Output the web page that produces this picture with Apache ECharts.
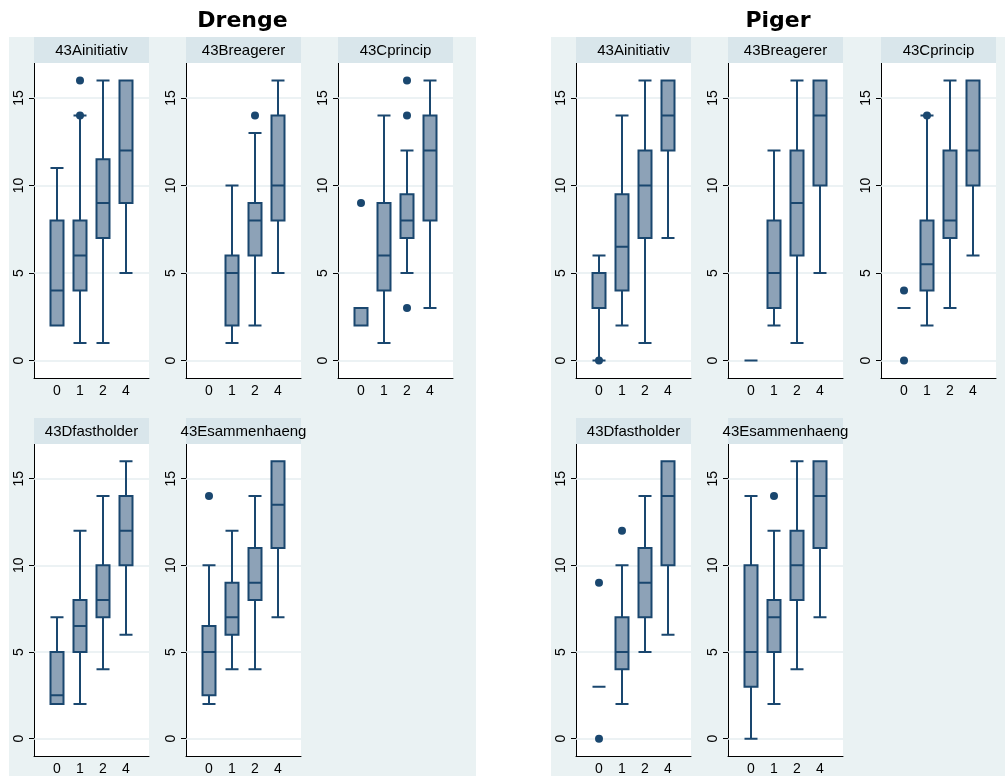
<!DOCTYPE html>
<html><head><meta charset="utf-8">
<script src="https://cdn.jsdelivr.net/npm/echarts@6/dist/echarts.min.js"></script>
<style>html,body{margin:0;padding:0;background:#fff}#c{width:1005px;height:776px}</style>
</head><body><div id="c"></div>
<script>
// ---------- data ----------
const categories = ['0', '1', '2', '4'];
const panelTitles = ['43Ainitiativ', '43Breagerer', '43Cprincip', '43Dfastholder', '43Esammenhaeng'];
const groupTitles = ['Drenge', 'Piger'];
const yTicks = [0, 5, 10, 15];

// box stats per category: [min, Q1, median, Q3, max]  (null = no observations)
const drengeA = [[2, 2, 4, 8, 11], [1, 4, 6, 8, 14], [1, 7, 9, 11.5, 16], [5, 9, 12, 16, 16]];
const drengeB = [null, [1, 2, 5, 6, 10], [2, 6, 8, 9, 13], [5, 8, 10, 14, 16]];
const drengeC = [[2, 2, 2, 3, 3], [1, 4, 6, 9, 14], [5, 7, 8, 9.5, 12], [3, 8, 12, 14, 16]];
const drengeD = [[2, 2, 2.5, 5, 7], [2, 5, 6.5, 8, 12], [4, 7, 8, 10, 14], [6, 10, 12, 14, 16]];
const drengeE = [[2, 2.5, 5, 6.5, 10], [4, 6, 7, 9, 12], [4, 8, 9, 11, 14], [7, 11, 13.5, 16, 16]];
const pigerA = [[0, 3, 5, 5, 6], [2, 4, 6.5, 9.5, 14], [1, 7, 10, 12, 16], [7, 12, 14, 16, 16]];
const pigerB = [[0, 0, 0, 0, 0], [2, 3, 5, 8, 12], [1, 6, 9, 12, 16], [5, 10, 14, 16, 16]];
const pigerC = [[3, 3, 3, 3, 3], [2, 4, 5.5, 8, 14], [3, 7, 8, 12, 16], [6, 10, 12, 16, 16]];
const pigerD = [[3, 3, 3, 3, 3], [2, 4, 5, 7, 10], [5, 7, 9, 11, 14], [6, 10, 14, 16, 16]];
const pigerE = [[0, 3, 5, 10, 14], [2, 5, 7, 8, 12], [4, 8, 10, 12, 16], [7, 11, 14, 16, 16]];

// outside values: [category index, value]
const drengeAOut = [[1, 14], [1, 16]];
const drengeBOut = [[2, 14]];
const drengeCOut = [[0, 9], [2, 3], [2, 14], [2, 16]];
const drengeDOut = [];
const drengeEOut = [[0, 14]];
const pigerAOut = [[0, 0]];
const pigerBOut = [];
const pigerCOut = [[0, 0], [0, 4], [1, 14]];
const pigerDOut = [[0, 0], [0, 9], [1, 12]];
const pigerEOut = [[1, 14]];

const groups = [
  { boxes: [drengeA, drengeB, drengeC, drengeD, drengeE], outs: [drengeAOut, drengeBOut, drengeCOut, drengeDOut, drengeEOut] },
  { boxes: [pigerA, pigerB, pigerC, pigerD, pigerE], outs: [pigerAOut, pigerBOut, pigerCOut, pigerDOut, pigerEOut] }
];

// ---------- layout / style ----------
const colLeft = [[34, 186, 338], [576, 728, 881]];
const rowTop = [63, 444];
const plotW = 115, plotH = 315, stripH = 26;
const bgRegions = [[9, 37, 467, 739], [551, 37, 454, 739]];
const NAVY = '#1A476F';
const FONT = '"Liberation Sans", Arial, sans-serif';

const grids = [], xAxes = [], yAxes = [], series = [], graphics = [];

bgRegions.forEach(r => graphics.push({ type: 'rect', z: -10, shape: { x: r[0], y: r[1], width: r[2], height: r[3] }, style: { fill: '#EAF2F3' } }));

groups.forEach((g, gi) => {
  const cx = bgRegions[gi][0] + bgRegions[gi][2] / 2;
  graphics.push({ type: 'text', z: 10, x: cx, y: 21,
    style: { text: groupTitles[gi], fill: '#000', font: 'bold 22px "DejaVu Sans", Verdana, sans-serif', align: 'center', verticalAlign: 'middle' } });
  g.boxes.forEach((boxes, p) => {
    const k = grids.length;
    const col = p < 3 ? p : p - 3;
    const row = p < 3 ? 0 : 1;
    const left = colLeft[gi][col], top = rowTop[row];
    grids.push({ left, top, width: plotW, height: plotH, show: true, backgroundColor: '#fff', borderWidth: 0 });
    graphics.push({ type: 'rect', z: 5, shape: { x: left, y: top - stripH, width: plotW, height: stripH }, style: { fill: '#D9E6EB' } });
    graphics.push({ type: 'text', z: 10, x: left + plotW / 2, y: top - stripH / 2 + 1,
      style: { text: panelTitles[p], fill: '#000', font: '15px ' + FONT, align: 'center', verticalAlign: 'middle' } });
    xAxes.push({ gridIndex: k, type: 'value', min: 0, max: 5, interval: 1,
      axisLine: { show: true, onZero: false, lineStyle: { color: '#000', width: 1 } },
      axisTick: { show: false }, splitLine: { show: false },
      axisLabel: { color: '#000', fontFamily: FONT, fontSize: 14, margin: 6,
        formatter: v => (v >= 1 && v <= 4) ? categories[v - 1] : '' } });
    yAxes.push({ gridIndex: k, type: 'value', min: -1, max: 17,
      axisLine: { show: true, onZero: false, lineStyle: { color: '#000', width: 1 } },
      axisTick: { show: true, length: 5, customValues: yTicks, lineStyle: { color: '#000' } },
      splitLine: { show: false },
      axisLabel: { customValues: yTicks, rotate: 90, color: '#000', fontFamily: FONT, fontSize: 14, margin: 8 } });
    const data = [];
    boxes.forEach((b, i) => { if (b) data.push([i + 1].concat(b)); });
    series.push({ type: 'boxplot', xAxisIndex: k, yAxisIndex: k, data, boxWidth: [13, 13],
      itemStyle: { color: '#8DA2B7', borderColor: NAVY, borderWidth: 2 },
      emphasis: { disabled: true }, silent: true, z: 3,
      markLine: { silent: true, z: 1, symbol: 'none', label: { show: false },
        lineStyle: { color: '#E6EEF1', width: 1.5, type: 'solid' }, emphasis: { disabled: true },
        data: yTicks.map(v => ({ yAxis: v })) } });
    series.push({ type: 'scatter', xAxisIndex: k, yAxisIndex: k, z: 4, silent: true,
      data: g.outs[p].map(o => [o[0] + 1, o[1]]), symbol: 'circle', symbolSize: 8,
      itemStyle: { color: NAVY, opacity: 1 } });
  });
});

const chart = echarts.init(document.getElementById('c'), null, { renderer: 'canvas' });
chart.setOption({ animation: false, backgroundColor: '#fff', grid: grids, xAxis: xAxes, yAxis: yAxes, series, graphic: graphics });
</script></body></html>
